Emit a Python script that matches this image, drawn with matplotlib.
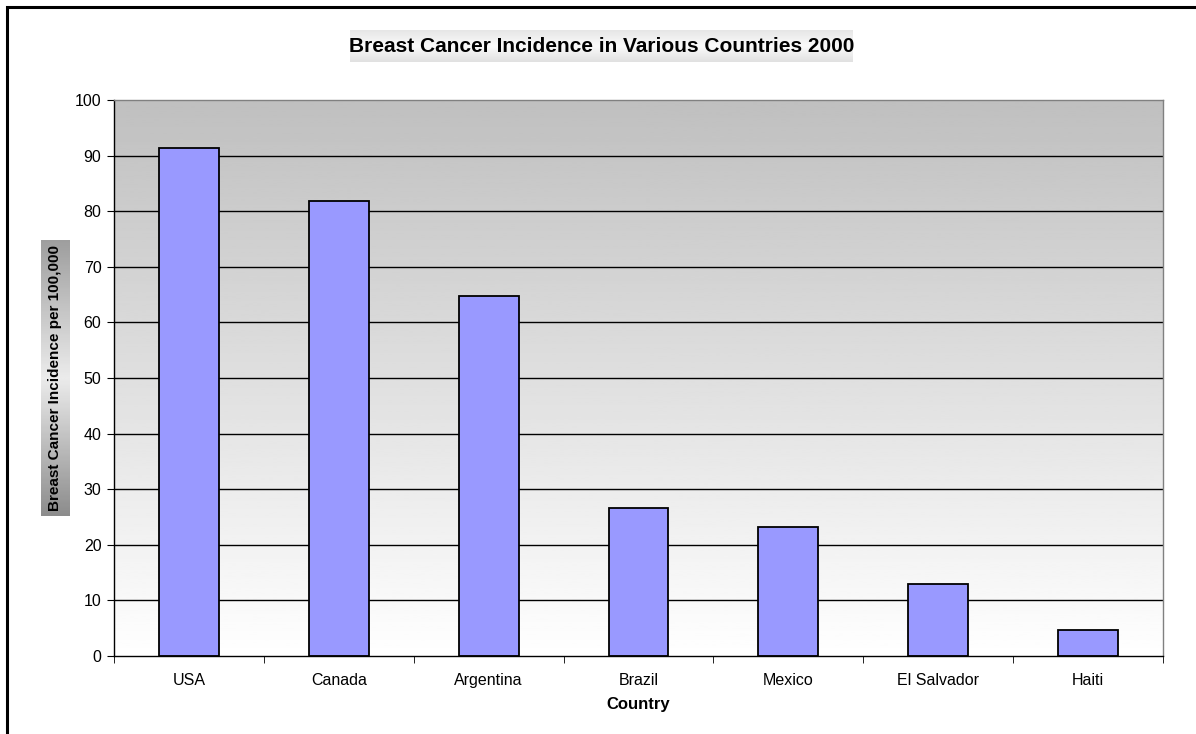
import numpy as np
import matplotlib
matplotlib.use("Agg")
import matplotlib.pyplot as plt
from matplotlib.patches import Rectangle

plt.rcParams['font.family'] = ['Liberation Sans', 'DejaVu Sans']

countries = ["USA", "Canada", "Argentina", "Brazil", "Mexico", "El Salvador", "Haiti"]
incidence = [91.4, 81.8, 64.7, 26.6, 23.2, 12.9, 4.7]
yticks = [0, 10, 20, 30, 40, 50, 60, 70, 80, 90, 100]

title = "Breast Cancer Incidence in Various Countries 2000"
xlabel = "Country"
ylabel = "Breast Cancer Incidence per 100,000"

W, H = 1196, 734
fig = plt.figure(figsize=(W / 100, H / 100), dpi=100)
fig.patch.set_facecolor("white")

# outer border (only top and left visible)
fig.add_artist(Rectangle((7 / W, -0.1), 1.2, 1 - 7.5 / H + 0.1, transform=fig.transFigure,
                         fill=False, edgecolor="black", linewidth=2.2))

ax = fig.add_axes([114 / W, 1 - 656 / H, (1163 - 114) / W, (656 - 100) / H])
x = np.arange(len(countries))

# gradient background: gray at top, white at bottom
grad = np.linspace(1.0, 0.75, 256).reshape(-1, 1)
ax.imshow(grad, cmap="gray", vmin=0, vmax=1, aspect="auto", origin="lower",
          extent=[-0.5, len(countries) - 0.5, 0, 100], zorder=0)
ax.set_xlim(-0.5, len(countries) - 0.5)
ax.set_ylim(0, 100)

for yv in yticks[1:-1]:
    ax.axhline(yv, color="black", linewidth=1.0, zorder=1)

ax.bar(x, incidence, width=0.4, color="#9999ff", edgecolor="black", linewidth=1.3, zorder=2)

ax.set_yticks(yticks)
ax.set_yticklabels([str(v) for v in yticks], fontsize=11.5)
ax.set_xticks(x)
ax.set_xticklabels(countries, fontsize=11.5)
ax.set_xticks(np.arange(-0.5, len(countries), 1.0), minor=True)
ax.tick_params(axis="x", which="major", length=0, pad=12)
ax.tick_params(axis="x", which="minor", length=5, direction="out", color="black")
ax.tick_params(axis="y", which="major", length=5, direction="out", pad=4)

ax.spines["left"].set_color("black")
ax.spines["bottom"].set_color("black")
ax.spines["top"].set_color("#808080")
ax.spines["right"].set_color("#808080")
for s in ax.spines.values():
    s.set_linewidth(1.0)

ax.set_xlabel(xlabel, fontsize=12, fontweight="bold", labelpad=7)

# title with gradient box
tax = fig.add_axes([350 / W, 1 - 62 / H, (853 - 350) / W, 32 / H])
tgrad = np.concatenate([np.linspace(0.90, 0.98, 40), np.linspace(0.98, 0.88, 40)]).reshape(-1, 1)
tax.imshow(tgrad, cmap="gray", vmin=0, vmax=1, aspect="auto", extent=[0, 1, 0, 1])
tax.set_axis_off()
tax.text(0.5, 0.5, title, ha="center", va="center", fontsize=15, fontweight="bold",
         transform=tax.transAxes)

# ylabel with gradient box
yax = fig.add_axes([41 / W, 1 - 516 / H, 29 / W, 276 / H])
ygrad = np.concatenate([np.linspace(0.62, 0.92, 60), np.linspace(0.92, 0.55, 60)]).reshape(-1, 1)
yax.imshow(ygrad, cmap="gray", vmin=0, vmax=1, aspect="auto", extent=[0, 1, 0, 1])
yax.set_axis_off()
yax.text(0.5, 0.5, ylabel, ha="center", va="center", rotation=90, fontsize=11,
         fontweight="bold", transform=yax.transAxes)

fig.savefig("out.png", dpi=100)
